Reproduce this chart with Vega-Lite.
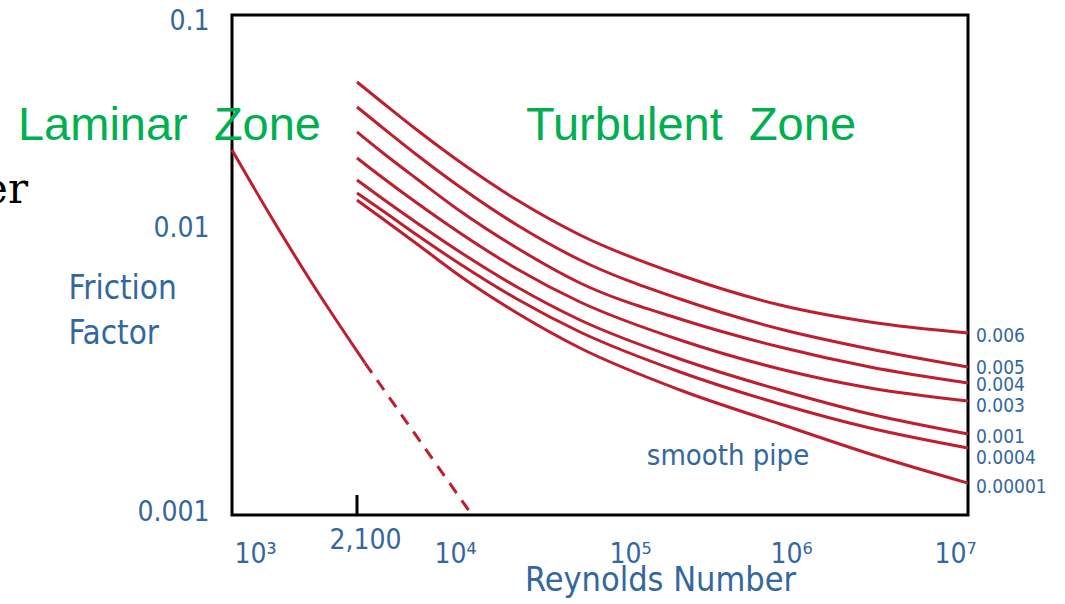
{
  "$schema": "https://vega.github.io/schema/vega-lite/v6.json",
  "width": 736,
  "height": 500,
  "autosize": "none",
  "padding": {"left": 232, "top": 15, "right": 97, "bottom": 89},
  "background": "white",
  "config": {"view": {"stroke": "black", "strokeWidth": 3}},
  "datasets": {
    "curves": [
      {"curve": "0.006", "Re": 2100, "f": 0.04846}, {"curve": "0.006", "Re": 3177, "f": 0.03863}, {"curve": "0.006", "Re": 5460, "f": 0.02884}, {"curve": "0.006", "Re": 10680, "f": 0.02041}, {"curve": "0.006", "Re": 22610, "f": 0.01353}, {"curve": "0.006", "Re": 51800, "f": 0.009454}, {"curve": "0.006", "Re": 204500, "f": 0.006858}, {"curve": "0.006", "Re": 854500, "f": 0.005391}, {"curve": "0.006", "Re": 2794000, "f": 0.004704}, {"curve": "0.006", "Re": 10000000, "f": 0.004306},
      {"curve": "0.005", "Re": 2100, "f": 0.03699}, {"curve": "0.005", "Re": 3177, "f": 0.02947}, {"curve": "0.005", "Re": 5460, "f": 0.02202}, {"curve": "0.005", "Re": 10680, "f": 0.01558}, {"curve": "0.005", "Re": 22610, "f": 0.01033}, {"curve": "0.005", "Re": 51800, "f": 0.007736}, {"curve": "0.005", "Re": 204500, "f": 0.005656}, {"curve": "0.005", "Re": 854500, "f": 0.004447}, {"curve": "0.005", "Re": 2794000, "f": 0.003788}, {"curve": "0.005", "Re": 10000000, "f": 0.003279},
      {"curve": "0.004", "Re": 2100, "f": 0.02823}, {"curve": "0.004", "Re": 3177, "f": 0.0225}, {"curve": "0.004", "Re": 5460, "f": 0.01699}, {"curve": "0.004", "Re": 10680, "f": 0.01202}, {"curve": "0.004", "Re": 22610, "f": 0.008517}, {"curve": "0.004", "Re": 51800, "f": 0.006433}, {"curve": "0.004", "Re": 204500, "f": 0.004819}, {"curve": "0.004", "Re": 854500, "f": 0.003849}, {"curve": "0.004", "Re": 2794000, "f": 0.003279}, {"curve": "0.004", "Re": 10000000, "f": 0.002884},
      {"curve": "0.003", "Re": 2100, "f": 0.02132}, {"curve": "0.003", "Re": 3177, "f": 0.01717}, {"curve": "0.003", "Re": 5460, "f": 0.0131}, {"curve": "0.003", "Re": 10680, "f": 0.009607}, {"curve": "0.003", "Re": 22610, "f": 0.007197}, {"curve": "0.003", "Re": 51800, "f": 0.005523}, {"curve": "0.003", "Re": 204500, "f": 0.004071}, {"curve": "0.003", "Re": 854500, "f": 0.003227}, {"curve": "0.003", "Re": 2794000, "f": 0.00277}, {"curve": "0.003", "Re": 10000000, "f": 0.002496},
      {"curve": "0.001", "Re": 2100, "f": 0.0168}, {"curve": "0.001", "Re": 3177, "f": 0.01368}, {"curve": "0.001", "Re": 5460, "f": 0.01056}, {"curve": "0.001", "Re": 10680, "f": 0.008249}, {"curve": "0.001", "Re": 22610, "f": 0.00623}, {"curve": "0.001", "Re": 51800, "f": 0.00478}, {"curve": "0.001", "Re": 204500, "f": 0.003496}, {"curve": "0.001", "Re": 854500, "f": 0.002726}, {"curve": "0.001", "Re": 2794000, "f": 0.002248}, {"curve": "0.001", "Re": 10000000, "f": 0.001915},
      {"curve": "0.0004", "Re": 2100, "f": 0.0146}, {"curve": "0.0004", "Re": 3177, "f": 0.01202}, {"curve": "0.0004", "Re": 5460, "f": 0.009454}, {"curve": "0.0004", "Re": 10680, "f": 0.007492}, {"curve": "0.0004", "Re": 22610, "f": 0.005656}, {"curve": "0.0004", "Re": 51800, "f": 0.004341}, {"curve": "0.0004", "Re": 204500, "f": 0.00315}, {"curve": "0.0004", "Re": 854500, "f": 0.002437}, {"curve": "0.0004", "Re": 2794000, "f": 0.00201}, {"curve": "0.0004", "Re": 10000000, "f": 0.001712},
      {"curve": "0.00001", "Re": 2100, "f": 0.01353}, {"curve": "0.00001", "Re": 3177, "f": 0.01102}, {"curve": "0.00001", "Re": 5460, "f": 0.008795}, {"curve": "0.00001", "Re": 10680, "f": 0.006803}, {"curve": "0.00001", "Re": 22610, "f": 0.005056}, {"curve": "0.00001", "Re": 51800, "f": 0.003818}, {"curve": "0.00001", "Re": 204500, "f": 0.002726}, {"curve": "0.00001", "Re": 854500, "f": 0.002076}, {"curve": "0.00001", "Re": 2794000, "f": 0.001632}, {"curve": "0.00001", "Re": 10000000, "f": 0.001292}
    ],
    "laminarSolid": [
      {"Re": 1000, "f": 0.02323}, {"Re": 1253, "f": 0.01151}, {"Re": 1589, "f": 0.006587}, {"Re": 2386, "f": 0.003385}
    ],
    "laminarDashed": [
      {"Re": 2386, "f": 0.003385}, {"Re": 12506, "f": 0.001}
    ],
    "curveLabels": [
      {"label": "0.006", "Re": 10000000, "f": 0.004204},
      {"label": "0.005", "Re": 10000000, "f": 0.003253},
      {"label": "0.004", "Re": 10000000, "f": 0.002838},
      {"label": "0.003", "Re": 10000000, "f": 0.002397},
      {"label": "0.001", "Re": 10000000, "f": 0.00187},
      {"label": "0.0004", "Re": 10000000, "f": 0.001579},
      {"label": "0.00001", "Re": 10000000, "f": 0.001252}
    ],
    "zones": [
      {"text": "Laminar \u00a0Zone", "Re": 690, "f": 0.02588},
      {"text": "Turbulent \u00a0Zone", "Re": 239300, "f": 0.02588}
    ],
    "smooth": [{"text": "smooth pipe", "Re": 406200, "f": 0.001493}],
    "stray": [{"text": "er", "Re": 298, "f": 0.0131}],
    "tick": [{"Re": 2100, "f": 0.001, "f2": 0.001174}]
  },
  "encoding": {
    "x": {
      "field": "Re",
      "type": "quantitative",
      "scale": {"type": "log", "domain": [1000, 2100, 10000, 100000, 1000000, 10000000], "range": [0, 125, 223, 398, 559, 736], "nice": false, "zero": false},
      "axis": {
        "values": [1000, 2100, 10000, 100000, 1000000, 10000000],
        "labelExpr": "datum.value == 1000 ? '10³' : datum.value == 2100 ? '2,100' : datum.value == 10000 ? '10⁴' : datum.value == 100000 ? '10⁵' : datum.value == 1000000 ? '10⁶' : '10⁷'",
        "domain": false,
        "ticks": false,
        "grid": false,
        "labelFlush": false,
        "labelOverlap": false,
        "labelBound": false,
        "labelFont": "DejaVu Sans Condensed, DejaVu Sans",
        "labelFontSize": 28,
        "labelColor": "#33679f",
        "labelAlign": "center",
        "labelBaseline": "alphabetic",
        "labelPadding": {"condition": {"test": "datum.value == 2100", "value": 33}, "value": 47},
        "labelOffset": {"condition": [{"test": "datum.value == 1000", "value": 23}, {"test": "datum.value == 2100", "value": 8}, {"test": "datum.value == 10000000", "value": -13}], "value": 0},
        "title": "Reynolds Number",
        "titleFont": "DejaVu Sans Condensed, DejaVu Sans",
        "titleFontSize": 34,
        "titleFontWeight": "normal",
        "titleColor": "#33679f",
        "titleX": 428,
        "titleY": 75,
        "titleAlign": "center",
        "titleBaseline": "alphabetic"
      }
    },
    "y": {
      "field": "f",
      "type": "quantitative",
      "scale": {"type": "log", "domain": [0.001, 0.01, 0.1], "range": [500, 213, 0], "nice": false, "zero": false},
      "axis": {
        "values": [0.001, 0.01, 0.1],
        "labelExpr": "datum.value >= 0.09 ? '0.1' : datum.value >= 0.009 ? '0.01' : '0.001'",
        "domain": false,
        "ticks": false,
        "grid": false,
        "labelFlush": false,
        "labelOverlap": false,
        "labelBound": false,
        "labelFont": "DejaVu Sans Condensed, DejaVu Sans",
        "labelFontSize": 28,
        "labelColor": "#33679f",
        "labelPadding": 23,
        "labelBaseline": "middle",
        "labelOffset": {"condition": [{"test": "datum.value >= 0.09", "value": 6}, {"test": "datum.value < 0.002", "value": -3}], "value": 0},
        "title": ["Friction", "Factor"],
        "titleAngle": 0,
        "titleAlign": "left",
        "titleBaseline": "alphabetic",
        "titleX": -164,
        "titleY": 283,
        "titleLineHeight": 45,
        "titleFont": "DejaVu Sans Condensed, DejaVu Sans",
        "titleFontSize": 33,
        "titleFontWeight": "normal",
        "titleColor": "#33679f"
      }
    }
  },
  "layer": [
    {
      "data": {"name": "tick"},
      "mark": {"type": "rule", "color": "black", "strokeWidth": 3},
      "encoding": {"y2": {"field": "f2"}}
    },
    {
      "data": {"name": "laminarSolid"},
      "mark": {"type": "line", "color": "#be1e2d", "strokeWidth": 3, "interpolate": "monotone"},
      "encoding": {}
    },
    {
      "data": {"name": "laminarDashed"},
      "mark": {"type": "line", "color": "#be1e2d", "strokeWidth": 3, "strokeDash": [12, 9]},
      "encoding": {}
    },
    {
      "data": {"name": "curves"},
      "mark": {"type": "line", "color": "#be1e2d", "strokeWidth": 3, "interpolate": "monotone"},
      "encoding": {"detail": {"field": "curve"}}
    },
    {
      "data": {"name": "curveLabels"},
      "mark": {"type": "text", "align": "left", "baseline": "middle", "dx": 8, "font": "DejaVu Sans Condensed, DejaVu Sans", "fontSize": 19, "color": "#33679f"},
      "encoding": {"text": {"field": "label"}}
    },
    {
      "data": {"name": "zones"},
      "mark": {"type": "text", "align": "center", "baseline": "alphabetic", "font": "Liberation Sans", "fontSize": 47, "color": "#00b050"},
      "encoding": {"text": {"field": "text"}}
    },
    {
      "data": {"name": "smooth"},
      "mark": {"type": "text", "align": "center", "baseline": "alphabetic", "font": "DejaVu Sans Condensed, DejaVu Sans", "fontSize": 29, "color": "#33679f"},
      "encoding": {"text": {"field": "text"}}
    },
    {
      "data": {"name": "stray"},
      "mark": {"type": "text", "align": "right", "baseline": "alphabetic", "font": "DejaVu Serif", "fontSize": 42, "color": "black"},
      "encoding": {"text": {"field": "text"}}
    }
  ]
}
